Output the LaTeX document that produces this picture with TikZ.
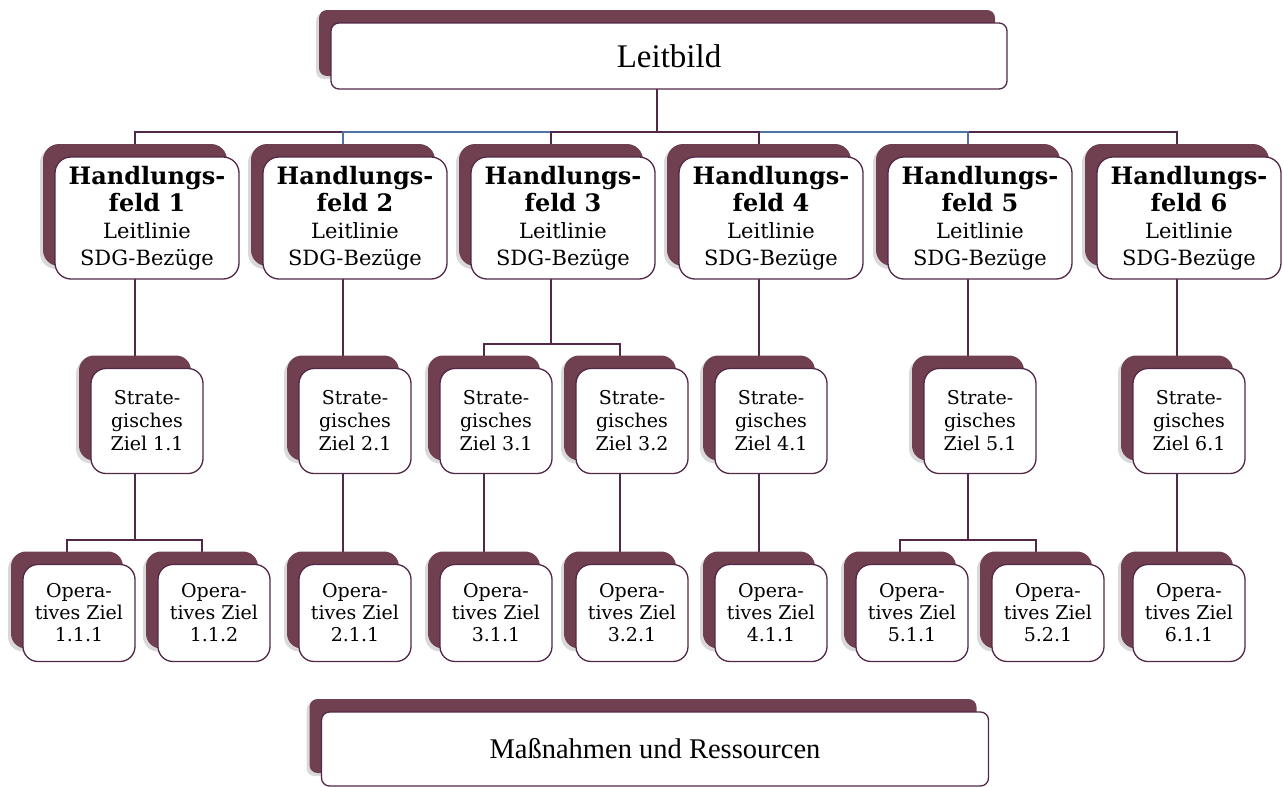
\documentclass[tikz,border=0pt]{standalone}
\usepackage{fontspec}
\setmainfont{DejaVu Serif}
\newfontfamily\headfont{Liberation Serif}
\usepackage{tikz}
\usetikzlibrary{shadows,backgrounds}

\definecolor{shade}{RGB}{112,63,80}
\definecolor{rim}{RGB}{82,40,72}
\definecolor{bluelink}{RGB}{79,113,166}

\newcommand{\hfb}{\bfseries\fontsize{24}{27}\selectfont}

\tikzset {
    box/.style={
        fill=white,
        draw=rim,
        line width=1.3pt,
        rectangle, % Set the shape as a rectangle
        general shadow={fill=black, opacity=.15, shadow xshift=-15pt, shadow yshift=10pt},
        general shadow={fill=shade, shadow xshift=-12pt, shadow yshift=13pt},
        inner sep=0pt,
        align=center,
    },
    style A/.style={
        box,
        rounded corners=8pt,
        minimum height=66pt,
        font=\headfont\fontsize{33}{36}\selectfont,
    },
    style B/.style={
        box,
        rounded corners=16pt,
        minimum width=184pt,
        minimum height=122pt,
        font=\fontsize{21}{27}\selectfont,
    },
    style C/.style={
        box,
        rounded corners=15pt,
        minimum width=112pt,
        minimum height=105pt,
        font=\fontsize{19}{23}\selectfont,
    },
    style D/.style={
        style C,
        minimum height=97pt,
        font=\fontsize{19}{22}\selectfont,
    },
    link/.style={draw=rim, line width=1.8pt},
}

\begin{document}
\begin{tikzpicture}[x=1pt, y=-1pt]
\useasboundingbox (0,0) rectangle (1283,787);

\node[style A, minimum width=676pt] at (669,56) (leit) {Leitbild};

\node[style B] at (147,218) (hf1) {{\hfb Handlungs-}\\{\hfb feld 1}\\Leitlinie\\SDG-Bezüge};
\node[style B] at (355,218) (hf2) {{\hfb Handlungs-}\\{\hfb feld 2}\\Leitlinie\\SDG-Bezüge};
\node[style B] at (563,218) (hf3) {{\hfb Handlungs-}\\{\hfb feld 3}\\Leitlinie\\SDG-Bezüge};
\node[style B] at (771,218) (hf4) {{\hfb Handlungs-}\\{\hfb feld 4}\\Leitlinie\\SDG-Bezüge};
\node[style B] at (980,218) (hf5) {{\hfb Handlungs-}\\{\hfb feld 5}\\Leitlinie\\SDG-Bezüge};
\node[style B] at (1189,218) (hf6) {{\hfb Handlungs-}\\{\hfb feld 6}\\Leitlinie\\SDG-Bezüge};

\node[style C] at (147,421) (sz11) {Strate-\\gisches\\Ziel 1.1};
\node[style C] at (355,421) (sz21) {Strate-\\gisches\\Ziel 2.1};
\node[style C] at (496,421) (sz31) {Strate-\\gisches\\Ziel 3.1};
\node[style C] at (632,421) (sz32) {Strate-\\gisches\\Ziel 3.2};
\node[style C] at (771,421) (sz41) {Strate-\\gisches\\Ziel 4.1};
\node[style C] at (980,421) (sz51) {Strate-\\gisches\\Ziel 5.1};
\node[style C] at (1189,421) (sz61) {Strate-\\gisches\\Ziel 6.1};

\node[style D] at (79,613) (oz111) {Opera-\\tives Ziel\\1.1.1};
\node[style D] at (214,613) (oz112) {Opera-\\tives Ziel\\1.1.2};
\node[style D] at (355,613) (oz211) {Opera-\\tives Ziel\\2.1.1};
\node[style D] at (496,613) (oz311) {Opera-\\tives Ziel\\3.1.1};
\node[style D] at (632,613) (oz321) {Opera-\\tives Ziel\\3.2.1};
\node[style D] at (771,613) (oz411) {Opera-\\tives Ziel\\4.1.1};
\node[style D] at (912,613) (oz511) {Opera-\\tives Ziel\\5.1.1};
\node[style D] at (1048,613) (oz521) {Opera-\\tives Ziel\\5.2.1};
\node[style D] at (1189,613) (oz611) {Opera-\\tives Ziel\\6.1.1};

\node[style A, minimum width=667pt, minimum height=74pt, font=\headfont\fontsize{28.5}{31}\selectfont] at (655,749) (mass) {Maßnahmen und Ressourcen};

\begin{scope}[on background layer]
% Leitbild zu Handlungsfeldern
\foreach \n/\c in {hf1/rim, hf6/rim, hf2/bluelink, hf5/bluelink, hf3/rim, hf4/rim}
  \draw[link, draw=\c] ([xshift=-12pt]leit.center) |- ([xshift=-12pt, yshift=24pt]\n.north) -- ([xshift=-12pt]\n.center);
% Handlungsfelder zu strategischen Zielen
\foreach \a/\b in {hf1/sz11, hf2/sz21, hf4/sz41, hf5/sz51, hf6/sz61}
  \draw[link] ([xshift=-12pt]\a.center) -- ([xshift=-12pt]\b.center);
\draw[link] ([xshift=-12pt]hf3.center) |- ([xshift=-12pt, yshift=24pt]sz31.north) -- ([xshift=-12pt]sz31.center);
\draw[link] ([xshift=-12pt]hf3.center) |- ([xshift=-12pt, yshift=24pt]sz32.north) -- ([xshift=-12pt]sz32.center);
% strategische zu operativen Zielen
\foreach \a/\b in {sz21/oz211, sz31/oz311, sz32/oz321, sz41/oz411, sz61/oz611}
  \draw[link] ([xshift=-12pt]\a.center) -- ([xshift=-12pt]\b.center);
\draw[link] ([xshift=-12pt]sz11.center) |- ([xshift=-12pt, yshift=24pt]oz111.north) -- ([xshift=-12pt]oz111.center);
\draw[link] ([xshift=-12pt]sz11.center) |- ([xshift=-12pt, yshift=24pt]oz112.north) -- ([xshift=-12pt]oz112.center);
\draw[link] ([xshift=-12pt]sz51.center) |- ([xshift=-12pt, yshift=24pt]oz511.north) -- ([xshift=-12pt]oz511.center);
\draw[link] ([xshift=-12pt]sz51.center) |- ([xshift=-12pt, yshift=24pt]oz521.north) -- ([xshift=-12pt]oz521.center);
\end{scope}
\end{tikzpicture}
\end{document}
